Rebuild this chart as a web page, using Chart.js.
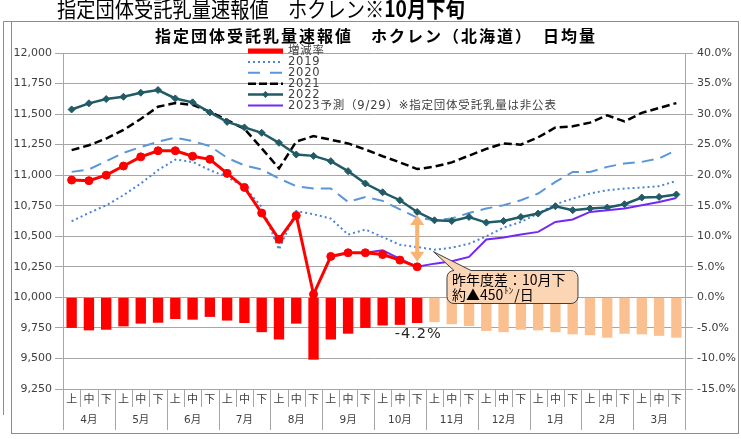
<!DOCTYPE html>
<html><head><meta charset="utf-8">
<script src="https://cdn.jsdelivr.net/npm/chart.js@4.4.0/dist/chart.umd.min.js"></script>
<style>
html,body{margin:0;padding:0;background:#fff;}
#wrap{position:relative;width:741px;height:439px;overflow:hidden;background:#fff;}
#hdr{position:absolute;left:57px;top:-6px;font-family:"Noto Sans CJK JP";font-size:22px;line-height:26px;white-space:nowrap;transform:scaleX(0.875);transform-origin:0 0;color:#000;z-index:2;}
#hdr b{font-weight:700;}
canvas{position:absolute;left:0;top:0;}
</style></head><body>
<div id="wrap"><canvas id="c" width="741" height="439"></canvas><div id="hdr">指定団体受託乳量速報値　ホクレン<b>※10月下旬</b></div></div>
<script>
const months = ['4月','5月','6月','7月','8月','9月','10月','11月','12月','1月','2月','3月'];
const periods = ['上','中','下'];
const categories = months.flatMap(m => periods.map(p => m + p));

const actual2023 = [10960,10955,11000,11075,11150,11200,11200,11155,11130,11015,10900,10690,10475,10670,10025,10335,10365,10365,10350,10305,10250];
const forecast2023 = [null,null,null,null,null,null,null,null,null,null,null,null,null,null,null,null,null,
  10365,10385,10315,10250,10276,10295,10331,10473,10490,10514,10536,10617,10637,10699,10713,10727,10754,10781,10814];
const y2022 = [11538,11588,11623,11642,11675,11697,11628,11596,11514,11436,11391,11347,11265,11169,11158,11115,11033,10932,10860,10795,10699,10631,10625,10658,10612,10625,10658,10686,10746,10713,10727,10735,10762,10817,10822,10842];
const y2021 = [11205,11245,11300,11370,11460,11560,11590,11575,11520,11450,11380,11220,11055,11275,11320,11290,11260,11210,11155,11105,11050,11070,11105,11160,11215,11260,11250,11310,11390,11400,11430,11490,11440,11510,11550,11590];
const y2020 = [11027,11047,11115,11183,11230,11274,11307,11279,11238,11142,11080,11047,10973,10910,10891,10891,10781,10822,10790,10720,10653,10631,10645,10691,10727,10754,10795,10850,10945,11027,11027,11068,11096,11109,11137,11205];
const y2019 = [10623,10691,10754,10836,10932,11041,11128,11109,11041,10986,10904,10740,10391,10707,10680,10645,10514,10555,10494,10430,10412,10390,10406,10439,10500,10571,10617,10686,10762,10808,10850,10877,10891,10899,10910,10953];
const rate = [-5.0,-5.4,-5.3,-4.75,-4.3,-4.15,-3.55,-3.65,-3.2,-3.8,-4.2,-5.7,-6.9,-4.3,-10.2,-6.9,-5.95,-5.0,-4.6,-4.5,-4.2,
  -4.05,-4.4,-4.7,-5.5,-5.7,-5.3,-5.4,-5.7,-6.05,-6.2,-6.6,-5.95,-6.05,-6.3,-6.6];
const leftTicks = {min:9250, max:12000, step:250};
const rightTicks = {min:-15, max:40, step:5};
const legendLabels = ['増減率','2019','2020','2021','2022','2023予測（9/29）※指定団体受託乳量は非公表'];
const titleText = '指定団体受託乳量速報値　ホクレン（北海道）　日均量';
const calloutLines = ['昨年度差：10月下', '約▲450', 'ﾄﾝ', '/日'];
const rateLabel = '-4.2%';

const C = {red:'#FF0000', peach:'#FAC090', c2019:'#4A86D4', c2020:'#5B96D8', c2021:'#000000', c2022:'#215B66', c2023:'#7328F5', grid:'#A6A6A6', text:'#404040'};
const barColors = rate.map((v,i) => i < actual2023.length ? C.red : C.peach);

Chart.defaults.font.family = '"DejaVu Sans","Noto Sans CJK JP",sans-serif';
Chart.defaults.color = C.text;

const decor = {
  id:'decor',
  beforeDraw(chart){
    const ctx = chart.ctx; ctx.save(); ctx.fillStyle='#fff'; ctx.fillRect(0,0,chart.width,chart.height); ctx.restore();
  },
  afterDraw(chart){
    const {ctx, chartArea:ca, scales} = chart;
    const x = scales.x, y = scales.y, y2 = scales.y2;
    ctx.save();
    // x axis separators
    ctx.strokeStyle = C.grid; ctx.lineWidth = 1;
    const n = categories.length, w = (ca.right-ca.left)/n;
    for (let i=0;i<=n;i++){
      const px = Math.round(ca.left + i*w) + 0.5;
      const long = i%3===0;
      ctx.beginPath(); ctx.moveTo(px, ca.bottom); ctx.lineTo(px, ca.bottom + (long?41:18)); ctx.stroke();
    }
    ctx.fillStyle = C.text; ctx.font = '10.5px "DejaVu Sans","Noto Sans CJK JP"';
    ctx.textAlign='center'; ctx.textBaseline='middle';
    months.forEach((m,k)=>{ ctx.fillText(m, ca.left + (k*3+1.5)*w, ca.bottom + 31); });

    // title
    ctx.fillStyle = '#000'; ctx.font = 'bold 16px "Noto Sans CJK JP"';
    ctx.letterSpacing = '2px';
    ctx.textAlign='center';
    ctx.fillText(titleText, 376, 36);
    ctx.letterSpacing = '0px';

    // legend
    const lx = 248, ly = 51, step = 10.9, sw = 35;
    legendLabels.forEach((lab, k) => {
      const yy = ly + k*step;
      ctx.save();
      ctx.setLineDash([]);
      if (k===0){ ctx.fillStyle = C.red; ctx.fillRect(lx, yy-2.5, sw, 5); }
      else {
        const st = [[C.c2019,2,[2,3]],[C.c2020,2,[12,10]],[C.c2021,2.5,[8,3]],[C.c2022,2.5,[]],[C.c2023,2,[]]][k-1];
        ctx.strokeStyle = st[0]; ctx.lineWidth = st[1]; ctx.setLineDash(st[2]);
        ctx.beginPath(); ctx.moveTo(lx, yy); ctx.lineTo(lx+sw, yy); ctx.stroke();
        if (k===4){ ctx.fillStyle=C.c2022; ctx.beginPath(); ctx.moveTo(lx+sw/2, yy-3.5); ctx.lineTo(lx+sw/2+3.5, yy); ctx.lineTo(lx+sw/2, yy+3.5); ctx.lineTo(lx+sw/2-3.5, yy); ctx.closePath(); ctx.fill(); }
      }
      ctx.restore();
      ctx.fillStyle = C.text; ctx.font = '11.5px "DejaVu Sans","Noto Sans CJK JP"';
      ctx.letterSpacing = '0.8px';
      ctx.textAlign='left'; ctx.textBaseline='middle';
      ctx.fillText(lab, lx+40, yy+0.5);
      ctx.letterSpacing = '0px';
    });

    // double arrow
    const ax = x.getPixelForValue(20);
    const yTop = y.getPixelForValue(y2022[20]) + 3;
    const yBot = y.getPixelForValue(actual2023[20]) - 5;
    ctx.fillStyle = '#F8B470';
    ctx.fillRect(ax-2, yTop+9, 4, yBot-yTop-18);
    ctx.beginPath(); ctx.moveTo(ax, yTop); ctx.lineTo(ax-7, yTop+10); ctx.lineTo(ax+7, yTop+10); ctx.closePath(); ctx.fill();
    ctx.beginPath(); ctx.moveTo(ax, yBot); ctx.lineTo(ax-7, yBot-10); ctx.lineTo(ax+7, yBot-10); ctx.closePath(); ctx.fill();

    // callout
    const tipX = x.getPixelForValue(21) - 1, tipY = y.getPixelForValue(y2019[21]) + 2;
    const left = tipX + 13.5, top = Math.round(y.getPixelForValue(10250) + 3.5) + 0.5;
    const right = left + 131, bottom = top + 33, r = 7;
    ctx.beginPath();
    ctx.moveTo(left + r, top);
    ctx.lineTo(tipX, tipY);
    ctx.lineTo(left + 24, top);
    ctx.lineTo(right - r, top);
    ctx.arcTo(right, top, right, top + r, r);
    ctx.lineTo(right, bottom - r);
    ctx.arcTo(right, bottom, right - r, bottom, r);
    ctx.lineTo(left + r, bottom);
    ctx.arcTo(left, bottom, left, bottom - r, r);
    ctx.lineTo(left, top + r);
    ctx.arcTo(left, top, left + r, top, r);
    ctx.closePath();
    ctx.fillStyle = '#FCD5B5'; ctx.fill();
    ctx.strokeStyle = '#404040'; ctx.lineWidth = 1; ctx.stroke();
    ctx.fillStyle = '#000'; ctx.textAlign='left'; ctx.textBaseline='middle';
    ctx.font = '14px "Noto Sans CJK JP"';
    ctx.fillText(calloutLines[0], left + 5, top + 9);
    ctx.fillText(calloutLines[1], left + 5, top + 24);
    let tx = left + 5 + ctx.measureText(calloutLines[1]).width + 1;
    ctx.font = '9px "Noto Sans CJK JP"';
    ctx.fillText(calloutLines[2], tx, top + 20);
    tx += ctx.measureText(calloutLines[2]).width + 1;
    ctx.font = '14px "Noto Sans CJK JP"';
    ctx.fillText(calloutLines[3], tx, top + 24);

    // rate label
    ctx.font = '14.5px "DejaVu Sans"'; ctx.fillStyle = '#262626';
    ctx.textAlign = 'center'; ctx.letterSpacing = '1px';
    ctx.fillText(rateLabel, x.getPixelForValue(20) + 1, y2.getPixelForValue(rate[20]) + 11);
    ctx.letterSpacing = '0px';

    // frame
    ctx.strokeStyle = '#8C8C8C'; ctx.lineWidth = 1;
    ctx.strokeRect(11.5, 21.5, 727, 412);
    ctx.beginPath(); ctx.moveTo(3.5, 21.5); ctx.lineTo(11.5, 21.5); ctx.moveTo(3.5, 21.5); ctx.lineTo(3.5, 415); ctx.stroke();
    ctx.restore();
  }
};

new Chart(document.getElementById('c'), {
  type: 'bar',
  data: {
    labels: categories,
    datasets: [
      {type:'bar', label:'増減率', data: rate, yAxisID:'y2', backgroundColor: barColors, borderWidth:0, barPercentage:0.6, categoryPercentage:1.0, order:10},
      {type:'line', label:'2019', data: y2019, yAxisID:'y', borderColor:C.c2019, borderWidth:2, borderDash:[2,3], pointRadius:0, tension:0, fill:false, order:6},
      {type:'line', label:'2020', data: y2020, yAxisID:'y', borderColor:C.c2020, borderWidth:2, borderDash:[12,7], pointRadius:0, tension:0, fill:false, order:5},
      {type:'line', label:'2021', data: y2021, yAxisID:'y', borderColor:C.c2021, borderWidth:2.5, borderDash:[8,4], pointRadius:0, tension:0, fill:false, order:4},
      {type:'line', label:'2022', data: y2022, yAxisID:'y', borderColor:C.c2022, borderWidth:2.5, pointStyle:'rectRot', pointRadius:3.5, pointBackgroundColor:C.c2022, pointBorderColor:C.c2022, pointBorderWidth:1, tension:0, fill:false, order:3},
      {type:'line', label:'2023予測', data: forecast2023, yAxisID:'y', borderColor:C.c2023, borderWidth:2, pointRadius:0, tension:0, fill:false, order:2},
      {type:'line', label:'2023', data: actual2023, yAxisID:'y', borderColor:C.red, borderWidth:3, pointStyle:'circle', pointRadius:4, pointBackgroundColor:C.red, pointBorderColor:C.red, pointBorderWidth:1, tension:0, fill:false, order:1}
    ]
  },
  options: {
    responsive:false, animation:false, events:[],
    layout:{padding:{left:11, right:2, top:53, bottom:5}},
    plugins:{legend:{display:false}, tooltip:{enabled:false}, title:{display:false}},
    scales:{
      x:{type:'category', offset:true, grid:{display:false, drawTicks:false, tickLength:0}, border:{display:true, color:C.grid},
         ticks:{autoSkip:false, maxRotation:0, minRotation:0, padding:3, color:C.text, font:{size:11, family:'"Noto Sans CJK JP"'}, callback:(v,i)=>periods[i%3]},
         afterFit:s=>{s.height=45;}},
      y:{position:'left', min:leftTicks.min, max:leftTicks.max,
         ticks:{stepSize:leftTicks.step, padding:3, color:C.text, font:{size:11}, callback:v=>Number(v).toLocaleString('en-US')},
         grid:{color:C.grid, tickLength:8, lineWidth:1}, border:{display:true, color:C.grid},
         afterFit:s=>{s.width=52;}},
      y2:{position:'right', min:rightTicks.min, max:rightTicks.max,
         ticks:{stepSize:rightTicks.step, padding:4, color:C.text, font:{size:11}, callback:v=>Number(v).toFixed(1)+'%'},
         grid:{drawOnChartArea:false, color:C.grid, tickLength:8}, border:{display:true, color:C.grid},
         afterFit:s=>{s.width=54;}}
    }
  },
  plugins:[decor]
});
</script>
</body></html>
